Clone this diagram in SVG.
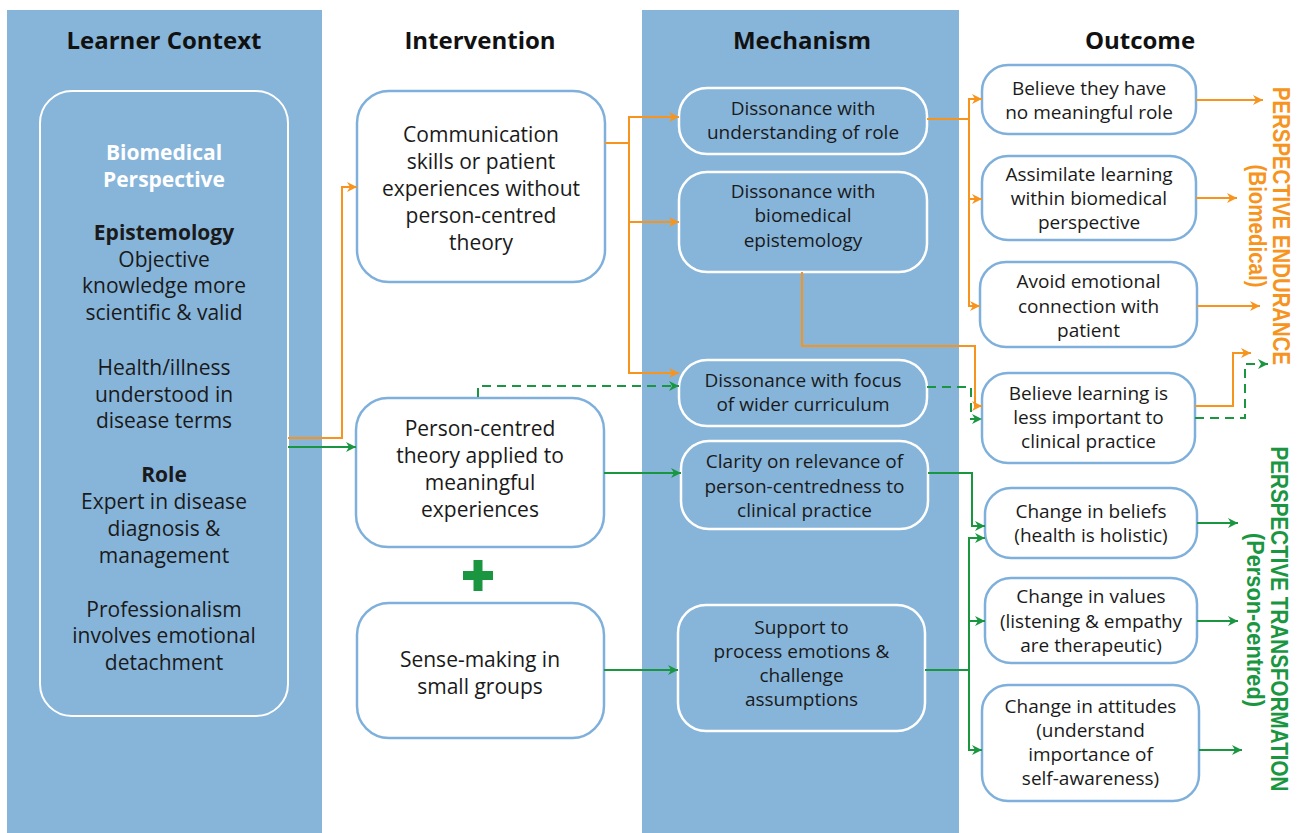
<svg xmlns="http://www.w3.org/2000/svg" width="1303" height="833" viewBox="0 0 1303 833">
<defs>
<style>
.col{fill:#87b5da}
.hdr{font-family:"Open Sans","Liberation Sans",sans-serif;font-weight:700;font-size:24px;fill:#111;text-anchor:middle}
.t21{font-family:"Open Sans","Liberation Sans",sans-serif;font-size:21px;fill:#1a1a1a;text-anchor:middle}
.t19{font-family:"Open Sans","Liberation Sans",sans-serif;font-size:19px;fill:#1a1a1a;text-anchor:middle}
.b{font-weight:700}
.w{fill:#ffffff}
.wbox{fill:#ffffff;stroke:#7fb0dc;stroke-width:2.5}
.mbox{fill:#87b5da;stroke:#ffffff;stroke-width:2.5}
.or{fill:none;stroke:#f7941d;stroke-width:2}
.gr{fill:none;stroke:#1a9641;stroke-width:2}
.da{stroke-dasharray:9 6}
.oa{marker-end:url(#ao)}
.ga{marker-end:url(#ag)}
.vl{font-family:"Liberation Sans",Arial,sans-serif;font-weight:700;font-size:23px;text-anchor:middle}
</style>
<marker id="ao" viewBox="0 0 10 10" refX="10" refY="5" markerWidth="10" markerHeight="10" markerUnits="userSpaceOnUse" orient="auto"><path d="M0,0 L10,5 L0,10 L3,5 z" fill="#f7941d"/></marker>
<marker id="ag" viewBox="0 0 10 10" refX="10" refY="5" markerWidth="10" markerHeight="10" markerUnits="userSpaceOnUse" orient="auto"><path d="M0,0 L10,5 L0,10 L3,5 z" fill="#1a9641"/></marker>
</defs>
<rect width="1303" height="833" fill="#ffffff"/>
<rect class="col" x="7" y="10" width="315" height="823"/>
<rect class="col" x="642" y="10" width="317" height="823"/>
<g id="headers">
<text class="hdr" x="164" y="49">Learner Context</text>
<text class="hdr" x="480" y="49">Intervention</text>
<text class="hdr" x="802" y="49">Mechanism</text>
<text class="hdr" x="1140" y="49">Outcome</text>
</g>
<g id="learner-context">
<rect x="40" y="91" width="248" height="625" rx="32" fill="none" stroke="#ffffff" stroke-width="2"/>
<text class="t21 b w" x="164" y="160">Biomedical</text>
<text class="t21 b w" x="164" y="187">Perspective</text>
<text class="t21 b" x="164" y="240">Epistemology</text>
<text class="t21" x="164" y="267">Objective</text>
<text class="t21" x="164" y="293">knowledge more</text>
<text class="t21" x="164" y="320">scientific &amp; valid</text>
<text class="t21" x="164" y="375">Health/illness</text>
<text class="t21" x="164" y="402">understood in</text>
<text class="t21" x="164" y="428">disease terms</text>
<text class="t21 b" x="164" y="482">Role</text>
<text class="t21" x="164" y="509">Expert in disease</text>
<text class="t21" x="164" y="536">diagnosis &amp;</text>
<text class="t21" x="164" y="563">management</text>
<text class="t21" x="164" y="617">Professionalism</text>
<text class="t21" x="164" y="643">involves emotional</text>
<text class="t21" x="164" y="670">detachment</text>
</g>
<g id="int-communication">
<rect class="wbox" x="357" y="91" width="248" height="191" rx="32"/>
<text class="t21" x="481" y="142">Communication</text>
<text class="t21" x="481" y="169">skills or patient</text>
<text class="t21" x="481" y="196">experiences without</text>
<text class="t21" x="481" y="223">person-centred</text>
<text class="t21" x="481" y="250">theory</text>
</g>
<g id="int-person-centred">
<rect class="wbox" x="356" y="398" width="248" height="149" rx="32"/>
<text class="t21" x="480" y="436">Person-centred</text>
<text class="t21" x="480" y="463">theory applied to</text>
<text class="t21" x="480" y="490">meaningful</text>
<text class="t21" x="480" y="517">experiences</text>
</g>
<g id="plus">
<rect x="463" y="571" width="30" height="9" fill="#1a9641"/>
<rect x="473.5" y="560" width="9" height="31" fill="#1a9641"/>
</g>
<g id="int-sense-making">
<rect class="wbox" x="357" y="603" width="247" height="135" rx="32"/>
<text class="t21" x="480" y="667">Sense-making in</text>
<text class="t21" x="480" y="694">small groups</text>
</g>
<g id="mech-role">
<rect class="mbox" x="679" y="88" width="248" height="66" rx="28"/>
<text class="t19" x="803" y="115">Dissonance with</text>
<text class="t19" x="803" y="139">understanding of role</text>
</g>
<g id="mech-epistemology">
<rect class="mbox" x="679" y="172" width="248" height="100" rx="28"/>
<text class="t19" x="803" y="198">Dissonance with</text>
<text class="t19" x="803" y="222">biomedical</text>
<text class="t19" x="803" y="247">epistemology</text>
</g>
<g id="mech-curriculum">
<rect class="mbox" x="679" y="360" width="248" height="66" rx="28"/>
<text class="t19" x="803" y="387">Dissonance with focus</text>
<text class="t19" x="803" y="411">of wider curriculum</text>
</g>
<g id="mech-clarity">
<rect class="mbox" x="681" y="441" width="247" height="88" rx="28"/>
<text class="t19" x="804.5" y="468">Clarity on relevance of</text>
<text class="t19" x="804.5" y="493">person-centredness to</text>
<text class="t19" x="804.5" y="517">clinical practice</text>
</g>
<g id="mech-support">
<rect class="mbox" x="678" y="605" width="247" height="126" rx="28"/>
<text class="t19" x="801.5" y="634">Support to</text>
<text class="t19" x="801.5" y="658">process emotions &amp;</text>
<text class="t19" x="801.5" y="682">challenge</text>
<text class="t19" x="801.5" y="706">assumptions</text>
</g>
<g id="out-no-role">
<rect class="wbox" x="982" y="65" width="214" height="69" rx="26"/>
<text class="t19" x="1089" y="95">Believe they have</text>
<text class="t19" x="1089" y="119">no meaningful role</text>
</g>
<g id="out-assimilate">
<rect class="wbox" x="982" y="156" width="214" height="84" rx="26"/>
<text class="t19" x="1089" y="181">Assimilate learning</text>
<text class="t19" x="1089" y="205">within biomedical</text>
<text class="t19" x="1089" y="229">perspective</text>
</g>
<g id="out-avoid">
<rect class="wbox" x="980" y="262" width="217" height="85" rx="26"/>
<text class="t19" x="1088.5" y="288">Avoid emotional</text>
<text class="t19" x="1088.5" y="313">connection with</text>
<text class="t19" x="1088.5" y="337">patient</text>
</g>
<g id="out-less-important">
<rect class="wbox" x="982" y="373" width="213" height="90" rx="26"/>
<text class="t19" x="1088.5" y="400">Believe learning is</text>
<text class="t19" x="1088.5" y="424">less important to</text>
<text class="t19" x="1088.5" y="448">clinical practice</text>
</g>
<g id="out-beliefs">
<rect class="wbox" x="985" y="488" width="212" height="70" rx="26"/>
<text class="t19" x="1091" y="518">Change in beliefs</text>
<text class="t19" x="1091" y="542">(health is holistic)</text>
</g>
<g id="out-values">
<rect class="wbox" x="985" y="578" width="212" height="85" rx="26"/>
<text class="t19" x="1091" y="603">Change in values</text>
<text class="t19" x="1091" y="628">(listening &amp; empathy</text>
<text class="t19" x="1091" y="652">are therapeutic)</text>
</g>
<g id="out-attitudes">
<rect class="wbox" x="982" y="685" width="217" height="116" rx="26"/>
<text class="t19" x="1090.5" y="713">Change in attitudes</text>
<text class="t19" x="1090.5" y="737">(understand</text>
<text class="t19" x="1090.5" y="761">importance of</text>
<text class="t19" x="1090.5" y="785">self-awareness)</text>
</g>
<g id="labels">
<text class="vl" fill="#f7941d" transform="translate(1273,226) rotate(90)" textLength="278" lengthAdjust="spacingAndGlyphs">PERSPECTIVE ENDURANCE</text>
<text class="vl" fill="#f7941d" transform="translate(1249,226) rotate(90)" textLength="123" lengthAdjust="spacingAndGlyphs">(Biomedical)</text>
<text class="vl" fill="#1a9641" transform="translate(1271,619) rotate(90)" textLength="345" lengthAdjust="spacingAndGlyphs">PERSPECTIVE TRANSFORMATION</text>
<text class="vl" fill="#1a9641" transform="translate(1247,620) rotate(90)" textLength="174" lengthAdjust="spacingAndGlyphs">(Person-centred)</text>
</g>
<g id="connectors">
<path class="or oa" d="M288,438 H342 V187 H357"/>
<path class="gr ga" d="M288,447 H356"/>
<path class="or oa" d="M605,143 H629 V117 H679"/>
<path class="or oa" d="M605,143 H629 V222 H679"/>
<path class="or oa" d="M605,143 H629 V373 H679"/>
<path class="gr ga da" d="M478,397 V386 H679"/>
<path class="gr ga" d="M604,473 H681"/>
<path class="gr ga" d="M604,670 H678"/>
<path class="or oa" d="M927,119 H969 V99 H982"/>
<path class="or oa" d="M927,119 H969 V199 H982"/>
<path class="or oa" d="M927,119 H969 V306 H980"/>
<path class="or oa" d="M802,272 V346 H975 V406 H982"/>
<path class="gr ga da" d="M927,387 H971 V419 H982"/>
<path class="gr ga" d="M928,473 H972 V526 H985"/>
<path class="gr ga" d="M925,670 H969 V538 H985"/>
<path class="gr ga" d="M925,670 H969 V621 H985"/>
<path class="gr ga" d="M925,670 H969 V750 H982"/>
<path class="or oa" d="M1196,100 H1263"/>
<path class="or oa" d="M1196,198 H1237"/>
<path class="or oa" d="M1197,306 H1260"/>
<path class="or oa" d="M1195,406 H1233 V353 H1251"/>
<path class="gr ga da" d="M1195,418 H1245 V364 H1268"/>
<path class="gr ga" d="M1197,523 H1238"/>
<path class="gr ga" d="M1197,621 H1238"/>
<path class="gr ga" d="M1199,750 H1242"/>
</g>
</svg>
